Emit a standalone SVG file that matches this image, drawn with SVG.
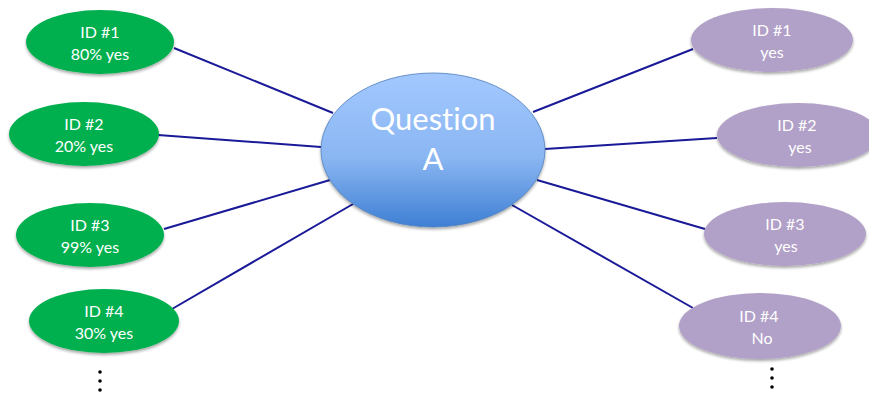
<svg xmlns="http://www.w3.org/2000/svg" width="869" height="394" viewBox="0 0 869 394">
<defs>
<linearGradient id="cg" x1="0" y1="0" x2="0" y2="1">
<stop offset="0" stop-color="#a3c8ff"/>
<stop offset="0.55" stop-color="#8ab6f2"/>
<stop offset="1" stop-color="#3f7fd4"/>
</linearGradient>
<filter id="sh" x="-20%" y="-20%" width="140%" height="150%">
<feGaussianBlur in="SourceAlpha" stdDeviation="1.5"/>
<feOffset dx="0" dy="2" result="b"/>
<feComponentTransfer><feFuncA type="linear" slope="0.35"/></feComponentTransfer>
<feMerge><feMergeNode/><feMergeNode in="SourceGraphic"/></feMerge>
</filter>
</defs>
<style>
.g{fill:#00b050;filter:url(#sh)}
.p{fill:#b1a0c7;filter:url(#sh)}
.c{fill:url(#cg);stroke:#4f81bd;stroke-width:0.8;filter:url(#sh)}
.t{font-family:Lato,"Open Sans",sans-serif;font-size:16px;fill:#fff;text-anchor:middle}
.q{font-family:Lato,"Open Sans",sans-serif;font-size:31px;fill:#fff;text-anchor:middle;font-variant-ligatures:none}
.ln{stroke:#1a1a99;stroke-width:2;fill:none}
.dot{fill:#000}
</style>
<rect width="869" height="394" fill="#fff"/>
<g id="connectors">
<line class="ln" x1="174" y1="48" x2="333" y2="113"/>
<line class="ln" x1="158" y1="135" x2="321" y2="147"/>
<line class="ln" x1="164" y1="229" x2="330" y2="180"/>
<line class="ln" x1="172" y1="309" x2="353" y2="204"/>
<line class="ln" x1="533" y1="112" x2="693" y2="49"/>
<line class="ln" x1="545" y1="149" x2="717" y2="138"/>
<line class="ln" x1="537" y1="180" x2="705" y2="229"/>
<line class="ln" x1="512" y1="205" x2="693" y2="308"/>
</g>
<g id="center">
<ellipse class="c" cx="433" cy="150" rx="112" ry="77"/>
<text class="q" x="433" y="130">Question</text>
<text class="q" x="433" y="170">A</text>
</g>
<g id="left1">
<ellipse class="g" cx="100" cy="42" rx="74" ry="32"/>
<text class="t" x="100" y="38">ID #1</text>
<text class="t" x="100" y="60">80% yes</text>
</g>
<g id="left2">
<ellipse class="g" cx="84" cy="134" rx="75" ry="32"/>
<text class="t" x="84" y="130">ID #2</text>
<text class="t" x="84" y="152">20% yes</text>
</g>
<g id="left3">
<ellipse class="g" cx="90" cy="235" rx="74" ry="32"/>
<text class="t" x="90" y="231">ID #3</text>
<text class="t" x="90" y="253">99% yes</text>
</g>
<g id="left4">
<ellipse class="g" cx="104" cy="321" rx="75" ry="32"/>
<text class="t" x="104" y="317">ID #4</text>
<text class="t" x="104" y="339">30% yes</text>
</g>
<g id="right1">
<ellipse class="p" cx="772" cy="40" rx="81" ry="32"/>
<text class="t" x="772" y="36">ID #1</text>
<text class="t" x="772" y="58">yes</text>
</g>
<g id="right2">
<ellipse class="p" cx="798" cy="135" rx="81" ry="32"/>
<text class="t" x="797" y="131">ID #2</text>
<text class="t" x="800" y="153">yes</text>
</g>
<g id="right3">
<ellipse class="p" cx="785" cy="234" rx="81" ry="32"/>
<text class="t" x="785" y="230">ID #3</text>
<text class="t" x="786" y="252">yes</text>
</g>
<g id="right4">
<ellipse class="p" cx="760" cy="326" rx="81" ry="33"/>
<text class="t" x="759" y="322">ID #4</text>
<text class="t" x="762" y="344">No</text>
</g>
<g id="dots-left">
<circle class="dot" cx="100" cy="372" r="1.8"/>
<circle class="dot" cx="100" cy="381" r="1.8"/>
<circle class="dot" cx="100" cy="390" r="1.8"/>
</g>
<g id="dots-right">
<circle class="dot" cx="772" cy="369" r="1.8"/>
<circle class="dot" cx="772" cy="378" r="1.8"/>
<circle class="dot" cx="772" cy="387" r="1.8"/>
</g>
</svg>
